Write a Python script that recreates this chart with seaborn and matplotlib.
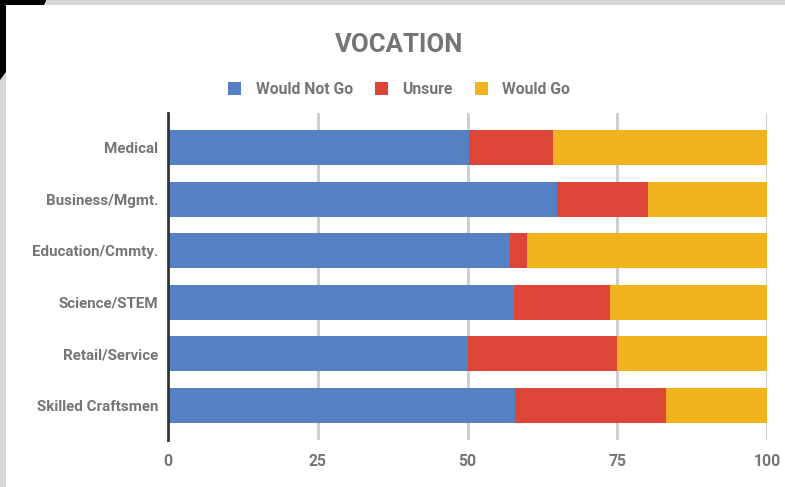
import matplotlib
matplotlib.use("Agg")
import matplotlib.pyplot as plt
from matplotlib.patches import Patch, Rectangle, Polygon
import seaborn as sns
import pandas as pd
import numpy as np

categories = ["Medical", "Business/Mgmt.", "Education/Cmmty.", "Science/STEM",
              "Retail/Service", "Skilled Craftsmen"]
would_not_go = [50.2, 64.9, 57.1, 57.7, 50.0, 58.0]
unsure = [14.0, 15.2, 2.9, 16.1, 25.0, 25.2]
would_go = [35.8, 19.9, 40.0, 26.2, 25.0, 16.8]
series_names = ["Would Not Go", "Unsure", "Would Go"]
colors = ["#5580c3", "#dc4537", "#f1b41f"]
xticks = [0, 25, 50, 75, 100]

sns.set_theme(style="white")
plt.rcParams['font.family'] = ['Roboto', 'DejaVu Sans']

df = pd.DataFrame({"category": categories,
                   "a": would_not_go,
                   "u": unsure,
                   "g": would_go})
df["cum1"] = df["a"]
df["cum2"] = df["a"] + df["u"]
df["cum3"] = df["a"] + df["u"] + df["g"]

fig = plt.figure(figsize=(7.85, 4.87), dpi=100)
ax = fig.add_axes([168/785, 1-440/487, 599/785, 327/487])

for col, c in zip(["cum3", "cum2", "cum1"], colors[::-1]):
    sns.barplot(data=df, x=col, y="category", orient="h", color=c,
                width=0.68, ax=ax, saturation=1, linewidth=0, zorder=3)

ax.set_xlim(0, 100)
ax.set_ylim(5.667, -0.667)
ax.set_xticks(xticks)
ax.set_xticklabels([str(t) for t in xticks])
ax.set_xlabel("")
ax.set_ylabel("")
for s in ["top", "right", "bottom"]:
    ax.spines[s].set_visible(False)
ax.spines["left"].set_color("#333333")
ax.spines["left"].set_linewidth(2)
ax.spines["left"].set_zorder(5)
for t in xticks[1:]:
    ax.axvline(t, color="#cccccc", lw=2, zorder=1)
ax.tick_params(axis="both", length=0, colors="#757575")
ax.tick_params(axis="x", pad=10, labelsize=11.3)
ax.tick_params(axis="y", pad=7, labelsize=10.9)
for lab in ax.get_xticklabels() + ax.get_yticklabels():
    lab.set_fontweight("bold")
    lab.set_color("#757575")

fig.text(399/785, 1-45/487, "VOCATION", ha="center", va="center",
         fontsize=18.5, fontweight="bold", color="#757575")

handles = [Patch(facecolor=c, edgecolor="none", label=n) for c, n in zip(colors, series_names)]
leg = fig.legend(handles=handles, loc="center", bbox_to_anchor=(399/785, 1-89.5/487),
                 ncol=3, frameon=False, handlelength=0.85, handleheight=0.85,
                 handletextpad=0.9, columnspacing=1.4,
                 prop={"family": "Roboto", "weight": "bold", "size": 11.3})
for t in leg.get_texts():
    t.set_color("#757575")

# decorative border bands
fig.patches.append(Rectangle((0, 1-5/487), 1, 5/487, transform=fig.transFigure,
                             facecolor="#d6d6d8", edgecolor="none", zorder=0))
fig.patches.append(Rectangle((0, 0), 6/785, 1, transform=fig.transFigure,
                             facecolor="#d6d6d8", edgecolor="none", zorder=0))
fig.patches.append(Polygon([(0, 1), (46/785, 1), (46/785, 1-1/487), (44/785, 1-5/487),
                            (6/785, 1-5/487), (6/785, 1-72/487), (0, 1-80/487)],
                           closed=True, transform=fig.transFigure,
                           facecolor="#000000", edgecolor="none", zorder=1))

fig.savefig("out.png", dpi=100)
